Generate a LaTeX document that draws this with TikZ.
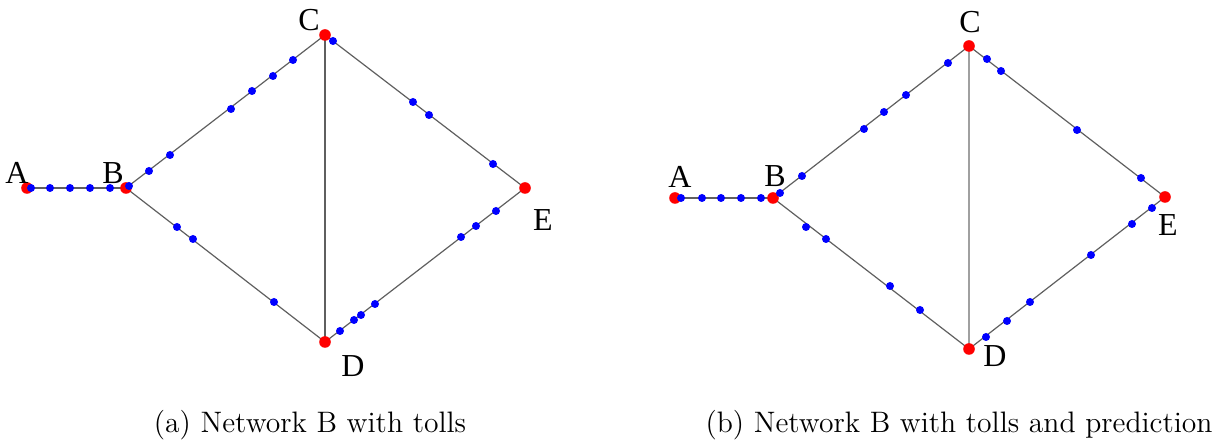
\documentclass[tikz,border=0pt]{standalone}
\usepackage{fontspec}
\newfontfamily\labfont{Liberation Serif}
\usetikzlibrary{backgrounds}
\definecolor{edgegray}{RGB}{95,95,95}
\definecolor{lightedge}{RGB}{160,160,160}
\tikzset{
  vtx/.style={circle,fill=red,inner sep=0pt,minimum size=5.8pt},
  toll/.style={circle,fill=blue,inner sep=0pt,minimum size=4pt},
  edge/.style={draw=edgegray,line width=0.6pt},
  lab/.style={font=\labfont\fontsize{16}{18}\selectfont,inner sep=0pt},
  captext/.style={font=\fontsize{14.8}{17}\selectfont,inner sep=0pt}
}
\begin{document}
\begin{tikzpicture}[x=0.5pt,y=-0.5pt]
\useasboundingbox (0,0) rectangle (1222,442);
% ---------- panel (a)
\node[vtx] (aA) at (27,188) {};
\node[vtx] (aB) at (126,188) {};
\node[vtx] (aC) at (325,35) {};
\node[vtx] (aD) at (325,342) {};
\node[vtx] (aE) at (525,188) {};
\begin{pgfonlayer}{background}
\draw[edge] (aA.center) -- (aB.center);
\draw[edge] (aB.center) -- (aC.center);
\draw[edge] (aB.center) -- (aD.center);
\draw[edge] (aC.center) -- (aD.center);
\draw[edge] (aC.center) -- (aE.center);
\draw[edge] (aD.center) -- (aE.center);
\end{pgfonlayer}
\foreach \x/\y [count=\i] in {31/188,50/188,70/188,90/188,110/188,
  129/186,149/171,170/155,231/109,252/91,273/76,293/60,
  333/41,413/102,429/115,493/164,
  177/227,193/239,274/302,
  340/331,354/320,361/315,375/304,461/237,476/226,496/211}
  \node[toll] (at\i) at (\x,\y) {};
\node[lab] (laA) at (17,173) {A};
\node[lab] (laB) at (113,173) {B};
\node[lab] (laC) at (309,20) {C};
\node[lab] (laD) at (353,366) {D};
\node[lab] (laE) at (543,220) {E};
\node[captext] (capa) at (310,425) {(a) Network B with tolls};
% ---------- panel (b)
\node[vtx] (bA) at (675,198) {};
\node[vtx] (bB) at (773,198) {};
\node[vtx] (bC) at (969,46) {};
\node[vtx] (bD) at (969,349) {};
\node[vtx] (bE) at (1165,197) {};
\begin{pgfonlayer}{background}
\draw[edge] (bA.center) -- (bB.center);
\draw[edge] (bB.center) -- (bC.center);
\draw[edge] (bB.center) -- (bD.center);
\draw[edge,draw=lightedge] (bC.center) -- (bD.center);
\draw[edge] (bC.center) -- (bE.center);
\draw[edge] (bD.center) -- (bE.center);
\end{pgfonlayer}
\foreach \x/\y [count=\i] in {681/198,702/198,721/198,741/198,761/198,
  780/193,802/176,864/129,884/112,906/95,948/63,
  987/59,1001/71,1077/130,1141/178,
  806/227,826/239,890/286,920/310,
  986/337,1007/321,1030/302,1091/255,1132/224,1152/208}
  \node[toll] (bt\i) at (\x,\y) {};
\node[lab] (lbA) at (680,177) {A};
\node[lab] (lbB) at (775,176) {B};
\node[lab] (lbC) at (970,22) {C};
\node[lab] (lbD) at (995,356) {D};
\node[lab] (lbE) at (1168,225) {E};
\node[captext] (capb) at (959,425) {(b) Network B with tolls and prediction};
\end{tikzpicture}
\end{document}
